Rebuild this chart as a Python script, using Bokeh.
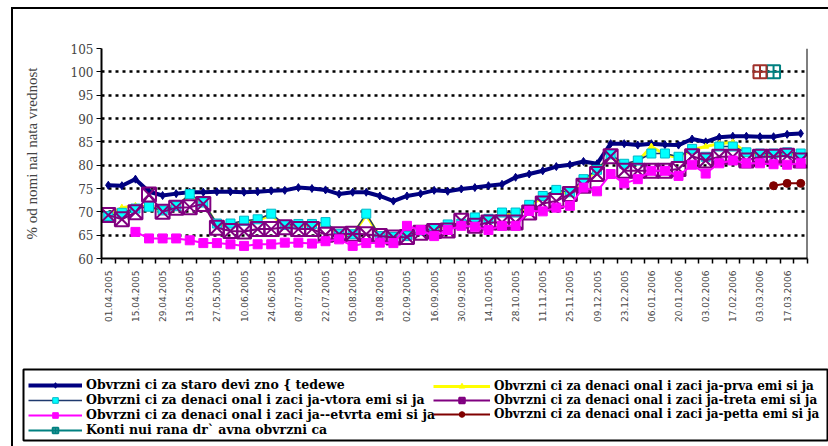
import math
import numpy as np
from bokeh.plotting import figure
from bokeh.layouts import column
from bokeh.models import (Range1d, FixedTicker, SingleIntervalTicker, Legend, LegendItem, Span)
from bokeh.embed import file_html
from bokeh.resources import INLINE

dates = ["01.04.2005", "08.04.2005", "15.04.2005", "22.04.2005", "29.04.2005",
         "06.05.2005", "13.05.2005", "20.05.2005", "27.05.2005",
         "03.06.2005", "10.06.2005", "17.06.2005", "24.06.2005",
         "01.07.2005", "08.07.2005", "15.07.2005", "22.07.2005", "29.07.2005",
         "05.08.2005", "12.08.2005", "19.08.2005", "26.08.2005",
         "02.09.2005", "09.09.2005", "16.09.2005", "23.09.2005", "30.09.2005",
         "07.10.2005", "14.10.2005", "21.10.2005", "28.10.2005",
         "04.11.2005", "11.11.2005", "18.11.2005", "25.11.2005",
         "02.12.2005", "09.12.2005", "16.12.2005", "23.12.2005", "30.12.2005",
         "06.01.2006", "13.01.2006", "20.01.2006", "27.01.2006",
         "03.02.2006", "10.02.2006", "17.02.2006", "24.02.2006",
         "03.03.2006", "10.03.2006", "17.03.2006", "24.03.2006"]

staro = [75.7, 75.6, 77.0, 74.3, 73.5, 73.9, 74.2, 74.2, 74.3, 74.3, 74.2, 74.3, 74.5,
         74.6, 75.2, 75.0, 74.7, 73.8, 74.2, 74.2, 73.4, 72.3, 73.4, 73.9, 74.6, 74.4,
         74.9, 75.2, 75.6, 75.9, 77.4, 78.1, 78.8, 79.7, 80.1, 80.8, 80.3, 84.6, 84.6,
         84.3, 84.6, 84.4, 84.3, 85.6, 85.0, 86.0, 86.2, 86.2, 86.1, 86.1, 86.6, 86.8]

prva = [69.3, 70.9, 71.3, 71.1, 70.3, 71.2, 73.5, 71.9, 67.3, 67.2, 67.8, 68.2, 69.3,
        67.0, 67.2, 67.2, 67.5, 65.2, 65.1, 69.3, 64.7, 64.5, 64.7, 65.8, 66.1, 67.0,
        67.3, 68.5, 68.3, 69.6, 69.6, 71.3, 73.1, 74.4, 74.0, 76.7, 78.8, 82.0, 80.0,
        80.8, 84.0, 82.3, 81.6, 83.3, 84.0, 84.6, 84.9, 82.6, 82.3, 82.3, 82.5, 82.3]

vtora = [69.1, 69.8, 70.7, 71.1, 70.3, 71.2, 73.8, 72.0, 67.5, 67.5, 68.1, 68.4, 69.6,
         67.2, 67.4, 67.4, 67.8, 65.3, 65.2, 69.6, 64.8, 64.6, 64.8, 66.0, 66.3, 67.3,
         67.5, 68.8, 68.5, 69.85, 69.85, 71.5, 73.4, 74.7, 74.2, 77.0, 79.0, 82.3, 80.3,
         81.0, 82.5, 82.5, 81.8, 83.5, 81.8, 84.0, 84.0, 82.75, 82.5, 82.5, 82.75, 82.5]

treta = [69.3, 68.4, 69.9, 73.7, 70.0, 70.9, 71.0, 71.7, 66.6, 65.9, 65.8, 66.3, 66.3,
         66.7, 66.3, 66.3, 65.1, 65.2, 65.3, 65.2, 64.8, 64.5, 64.6, 65.5, 65.9, 66.0,
         68.1, 67.0, 67.7, 67.7, 67.7, 69.85, 71.8, 72.3, 73.8, 75.6, 78.1, 81.9, 78.8,
         78.8, 78.8, 78.8, 79.2, 81.9, 81.0, 81.8, 81.8, 81.0, 81.8, 81.8, 82.0, 81.0]

cetvrta = [None, None, 65.7, 64.3, 64.3, 64.3, 63.9, 63.3, 63.3, 63.05, 62.7, 63.05, 63.05,
           63.4, 63.4, 63.2, 63.7, 64.1, 62.7, 63.3, 63.4, 63.3, 67.0, 66.1, 64.8, 66.1,
           67.0, 66.8, 66.1, 67.0, 67.0, 70.2, 70.1, 70.9, 71.3, 75.2, 74.4, 78.1, 76.1,
           77.0, 78.8, 78.8, 77.7, 80.1, 78.2, 80.4, 81.0, 80.4, 80.4, 80.2, 80.1, 80.4]

petta = [None] * 49 + [75.6, 76.1, 76.1]

kontinuirana = [None] * 49 + [100.0, None, None]

kontinuirana_b = [None] * 48 + [100.0, None, None, None]

labels = ["Obvrzni ci za staro devi zno { tedewe",
          "Obvrzni ci za denaci onal i zaci ja-prva emi si ja",
          "Obvrzni ci za denaci onal i zaci ja-vtora emi si ja",
          "Obvrzni ci za denaci onal i zaci ja-treta emi si ja",
          "Obvrzni ci za denaci onal i zaci ja--etvrta emi si ja",
          "Obvrzni ci za denaci onal i zaci ja-petta emi si ja",
          "Konti nui rana dr` avna obvrzni ca"]

x = np.arange(len(dates))


def arr(v):
    return np.array(v, dtype=float)


SERIF = "Liberation Serif"
WIDE_SERIF = "DejaVu Serif"

# styles for each series: (line color, line width, marker, size, fill, marker line, marker lw)
STY = {
    "staro": ("#000080", 4, "diamond", 8, "#000080", "#000080", 1),
    "prva": ("#FFFF00", 3, "triangle", 6, "#FFFF00", "#FFFF00", 1),
    "vtora": ("#1F3A6E", 1.5, "square", 9, "#00FFFF", "#00B8C8", 1),
    "treta": ("#800080", 2, "square_x", 14, None, "#800080", 2),
    "cetvrta": ("#FF00FF", 2, "square", 9, "#FF00FF", "#FF00FF", 1),
    "petta": ("#800000", 2, "circle", 8, "#800000", "#800000", 1),
    "kont": ("#008080", 2, "square_cross", 13, None, "#008080", 2),
}

# ---------------- main chart ----------------
p = figure(width=815, height=351, x_range=Range1d(-0.5, 51.5), y_range=Range1d(60, 105),
           output_backend="svg", toolbar_location=None, frame_align=False,
           min_border_left=88, min_border_right=21, min_border_top=39, min_border_bottom=102)
p.outline_line_color = None
p.background_fill_color = "white"
p.border_fill_color = "white"
p.xgrid.grid_line_color = None
p.ygrid.grid_line_color = "black"
p.ygrid.grid_line_width = 2.5
p.ygrid.grid_line_dash = "3 4"

p.yaxis.ticker = SingleIntervalTicker(interval=5, num_minor_ticks=0)
p.yaxis.axis_line_width = 2
p.yaxis.major_tick_out = 5
p.yaxis.major_tick_in = 0
p.yaxis.minor_tick_line_color = None
p.yaxis.major_label_text_font = WIDE_SERIF
p.yaxis.major_label_text_font_size = "12px"
p.yaxis.major_label_standoff = 3
p.yaxis.axis_label = "% od nomi nal nata vrednost"
p.yaxis.axis_label_text_font = SERIF
p.yaxis.axis_label_text_font_size = "15px"
p.yaxis.axis_label_text_font_style = "normal"
p.yaxis.axis_label_standoff = 28

p.xaxis.ticker = FixedTicker(ticks=list(range(0, 52, 2)),
                             minor_ticks=[i - 0.5 for i in range(53)])
p.xaxis.major_label_overrides = {i: dates[i] for i in range(0, 52, 2)}
p.xaxis.major_tick_line_color = None
p.xaxis.minor_tick_out = 5
p.xaxis.minor_tick_in = 0
p.xaxis.minor_tick_line_width = 1.5
p.xaxis.axis_line_width = 2
p.xaxis.major_label_orientation = math.pi / 2
p.xaxis.major_label_text_font = "DejaVu Sans"
p.xaxis.major_label_text_font_size = "9px"
p.xaxis.major_label_standoff = 6

p.add_layout(Span(location=51.5, dimension="height", line_color="black", line_width=2))


def draw(fig, key, ys):
    lc, lw, mk, sz, fc, mlc, mlw = STY[key]
    fig.line(x, arr(ys), line_color=lc, line_width=lw)
    fig.scatter(x, arr(ys), marker=mk, size=sz, fill_color=fc, line_color=mlc,
                line_width=mlw)


draw(p, "staro", staro)
draw(p, "prva", prva)
draw(p, "vtora", vtora)
draw(p, "treta", treta)
draw(p, "cetvrta", cetvrta)
draw(p, "petta", petta)
draw(p, "kont", kontinuirana)
p.scatter(x, arr(kontinuirana_b), marker="square_cross", size=13, fill_color=None,
          line_color="#A0302A", line_width=2)

# ---------------- legend strip ----------------
q = figure(width=815, height=86, x_range=Range1d(0, 1), y_range=Range1d(0, 1),
           output_backend="svg", toolbar_location=None, frame_align=False,
           x_axis_location=None, y_axis_location=None,
           min_border_left=10, min_border_right=0, min_border_top=9, min_border_bottom=6)
q.grid.visible = False
q.outline_line_color = "black"
q.outline_line_width = 2
q.background_fill_color = "white"
q.border_fill_color = "white"


def proxy(key):
    # legend-only proxies, placed outside the visible range of the legend strip
    lc, lw, mk, sz, fc, mlc, mlw = STY[key]
    r1 = q.line([-5, -4], [-5, -4], line_color=lc, line_width=lw)
    r2 = q.scatter([-5], [-5], marker=mk, size=sz, fill_color=fc, line_color=mlc,
                   line_width=mlw)
    return [r1, r2]


def make_legend(items, loc, gw, fs):
    lg = Legend(items=items, location=loc, orientation="vertical")
    lg.border_line_color = None
    lg.background_fill_alpha = 0
    lg.padding = 0
    lg.margin = 0
    lg.spacing = 0
    lg.label_height = 14
    lg.glyph_height = 14
    lg.glyph_width = gw
    lg.label_standoff = 4
    lg.label_text_font = WIDE_SERIF
    lg.label_text_font_style = "bold"
    lg.label_text_font_size = fs
    lg.label_text_color = "black"
    return lg


leg1 = make_legend([
    LegendItem(label=labels[0], renderers=proxy("staro")),
    LegendItem(label=labels[2], renderers=proxy("vtora")),
    LegendItem(label=labels[4], renderers=proxy("cetvrta")),
    LegendItem(label=labels[6], renderers=proxy("kont")),
], (5, 3), 54, "12.5px")
leg2 = make_legend([
    LegendItem(label=labels[1], renderers=proxy("prva")),
    LegendItem(label=labels[3], renderers=proxy("treta")),
    LegendItem(label=labels[5], renderers=proxy("petta")),
], (410, 19), 57, "12px")
q.add_layout(leg1)
q.add_layout(leg2)

layout = column(p, q, spacing=0, margin=(7, 0, 0, 11),
                styles={"border-left": "2px solid black", "border-top": "2px solid black"})

open("out.html", "w").write(file_html(layout, INLINE))
